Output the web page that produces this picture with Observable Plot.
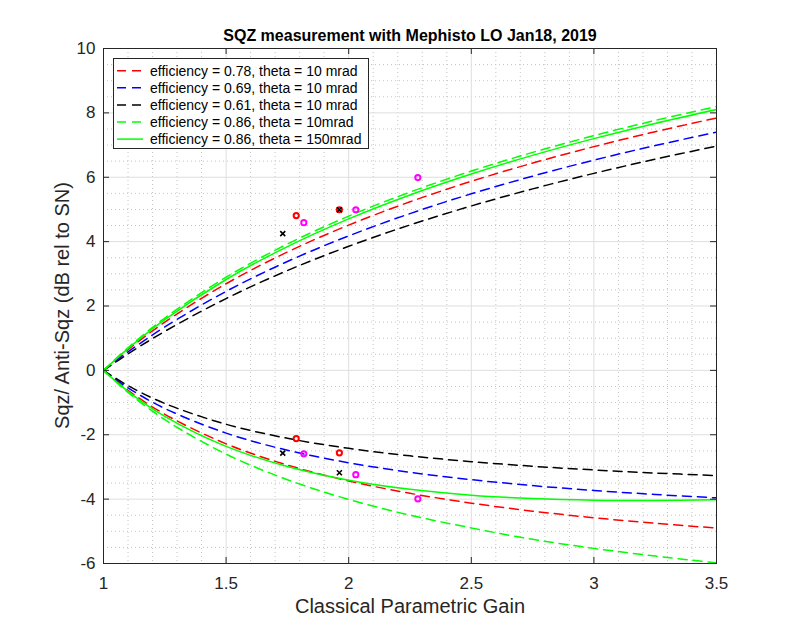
<!DOCTYPE html>
<html>
<head>
<meta charset="utf-8">
<script src="https://cdn.jsdelivr.net/npm/d3@7"></script>
<script src="https://cdn.jsdelivr.net/npm/@observablehq/plot@0.6"></script>
<style>
  html, body { margin: 0; padding: 0; background: #fff; }
  #chart { position: relative; width: 792px; height: 634px; }
</style>
</head>
<body>
<div id="chart"></div>
<script>
// ---- Data ----
const gain = [1, 1.1, 1.25, 1.5, 1.75, 2, 2.25, 2.5, 2.75, 3, 3.25, 3.5];

// efficiency = 0.78, theta = 10 mrad
const anti078 = [0, 0.644, 1.498, 2.692, 3.678, 4.514, 5.237, 5.874, 6.440, 6.951, 7.416, 7.841];
const sqz078  = [0, -0.618, -1.364, -2.282, -2.942, -3.436, -3.819, -4.125, -4.373, -4.578, -4.751, -4.898];
// efficiency = 0.69, theta = 10 mrad
const anti069 = [0, 0.574, 1.349, 2.454, 3.382, 4.178, 4.871, 5.485, 6.035, 6.532, 6.985, 7.401];
const sqz069  = [0, -0.542, -1.183, -1.949, -2.481, -2.870, -3.165, -3.395, -3.580, -3.730, -3.855, -3.960];
// efficiency = 0.61, theta = 10 mrad
const anti061 = [0, 0.511, 1.212, 2.231, 3.101, 3.855, 4.518, 5.108, 5.639, 6.121, 6.562, 6.968];
const sqz061  = [0, -0.475, -1.028, -1.673, -2.110, -2.423, -2.656, -2.836, -2.979, -3.094, -3.189, -3.268];
// efficiency = 0.86, theta = 10mrad
const anti086a = [0, 0.704, 1.626, 2.894, 3.926, 4.793, 5.539, 6.192, 6.772, 7.293, 7.766, 8.198];
const sqz086a  = [0, -0.686, -1.531, -2.602, -3.396, -4.010, -4.498, -4.895, -5.250, -5.530, -5.770, -5.980];
// efficiency = 0.86, theta = 150mrad
const anti086b = [0, 0.678, 1.575, 2.823, 3.846, 4.708, 5.451, 6.101, 6.680, 7.200, 7.672, 8.104];
const sqz086b  = [0, -0.650, -1.429, -2.362, -2.989, -3.413, -3.695, -3.876, -3.982, -4.033, -4.042, -4.021];

// measured points
const redGain = [1.786, 1.962, 1.786, 1.962];
const redDb   = [4.81, 4.99, -2.12, -2.56];
const magGain = [1.817, 2.029, 2.282, 1.817, 2.029, 2.282];
const magDb   = [4.59, 4.99, 5.99, -2.59, -3.24, -3.99];
const blkGain = [1.731, 1.962, 1.731, 1.962];
const blkDb   = [4.25, 4.99, -2.57, -3.18];

// ticks / grid
const xTicks = [1, 1.5, 2, 2.5, 3, 3.5];
const yTicks = [-6, -4, -2, 0, 2, 4, 6, 8, 10];
const xMinor = [1.1, 1.2, 1.3, 1.4, 1.6, 1.7, 1.8, 1.9, 2.1, 2.2, 2.3, 2.4, 2.6, 2.7, 2.8, 2.9, 3.1, 3.2, 3.3, 3.4];
const yMinor = [-5.5, -5, -4.5, -3.5, -3, -2.5, -1.5, -1, -0.5, 0.5, 1, 1.5, 2.5, 3, 3.5, 4.5, 5, 5.5, 6.5, 7, 7.5, 8.5, 9, 9.5];

const titleText = "SQZ measurement with Mephisto LO Jan18, 2019";
const xLabel = "Classical Parametric Gain";
const yLabel = "Sqz/ Anti-Sqz (dB rel to SN)";

const legendLabels = [
  "efficiency = 0.78, theta = 10 mrad",
  "efficiency = 0.69, theta = 10 mrad",
  "efficiency = 0.61, theta = 10 mrad",
  "efficiency = 0.86, theta = 10mrad",
  "efficiency = 0.86, theta = 150mrad"
];
const legendColors = ["#ff0000", "#0000ff", "#000000", "#00ff00", "#00ff00"];
const legendDash = ["9,6", "9,6", "9,6", "9,6", null];

// ---- Build ----
const W = 792, H = 634;
const mL = 103, mR = 76, mT = 48, mB = 71;
const fw = W - mL - mR, fh = H - mT - mB;
const FONT = "'Liberation Sans', Arial, Helvetica, sans-serif";

const pts = (xs, ys) => xs.map((x, i) => ({x, y: ys[i]}));

const series = [
  {a: anti078, s: sqz078, c: legendColors[0], d: legendDash[0]},
  {a: anti069, s: sqz069, c: legendColors[1], d: legendDash[1]},
  {a: anti061, s: sqz061, c: legendColors[2], d: legendDash[2]},
  {a: anti086a, s: sqz086a, c: legendColors[3], d: legendDash[3]},
  {a: anti086b, s: sqz086b, c: legendColors[4], d: legendDash[4]}
];

const lineMarks = [];
for (const sr of series) {
  for (const arr of [sr.a, sr.s]) {
    lineMarks.push(Plot.line(pts(gain, arr), {
      x: "x", y: "y", stroke: sr.c, strokeWidth: 1.5,
      strokeDasharray: sr.d ?? undefined, curve: "catmull-rom", clip: true
    }));
  }
}

const txtColor = "#262626";

const plot = Plot.plot({
  width: W, height: H,
  marginLeft: mL, marginRight: mR, marginTop: mT, marginBottom: mB,
  style: {fontFamily: FONT, color: txtColor, background: "#fff"},
  x: {domain: [1, 3.5], axis: null},
  y: {domain: [-6, 10], axis: null},
  marks: [
    // minor grid
    Plot.ruleX(xMinor, {stroke: "#c4c4c4", strokeWidth: 1, strokeDasharray: "1,3"}),
    Plot.ruleY(yMinor, {stroke: "#c4c4c4", strokeWidth: 1, strokeDasharray: "1,3"}),
    // major grid
    Plot.ruleX(xTicks, {stroke: "#dedede", strokeWidth: 1}),
    Plot.ruleY(yTicks, {stroke: "#dedede", strokeWidth: 1}),
    // curves
    ...lineMarks,
    // measured points
    Plot.dot(pts(redGain, redDb), {x: "x", y: "y", r: 2.6, stroke: "#ff0000", strokeWidth: 2, fill: "none"}),
    Plot.dot(pts(magGain, magDb), {x: "x", y: "y", r: 2.6, stroke: "#ff00ff", strokeWidth: 2, fill: "none"}),
    Plot.dot(pts(blkGain, blkDb), {x: "x", y: "y", r: 2.4, symbol: "times", stroke: "#000000", strokeWidth: 1.6}),
    // inward ticks
    Plot.ruleX(xTicks, {stroke: txtColor, strokeWidth: 1, insetTop: fh - 6}),
    Plot.ruleX(xTicks, {stroke: txtColor, strokeWidth: 1, insetBottom: fh - 6}),
    Plot.ruleY(yTicks, {stroke: txtColor, strokeWidth: 1, insetRight: fw - 6}),
    Plot.ruleY(yTicks, {stroke: txtColor, strokeWidth: 1, insetLeft: fw - 6}),
    // frame
    Plot.frame({stroke: txtColor, strokeWidth: 1}),
    // tick labels
    Plot.axisX({ticks: xTicks, tickSize: 0, tickPadding: 13, fontSize: 17, label: null, tickFormat: d => String(d)}),
    Plot.axisY({ticks: yTicks, tickSize: 0, tickPadding: 8, fontSize: 17, label: null, tickFormat: d => d < 0 ? "-" + String(-d) : String(d)}),
    // title and x label
    Plot.text([titleText], {frameAnchor: "top", lineAnchor: "bottom", dy: -8, fontSize: 16, fontWeight: "bold", fill: "#000"}),
    Plot.text([xLabel], {frameAnchor: "bottom", lineAnchor: "bottom", dy: 49, fontSize: 20, fill: txtColor})
  ]
});

document.getElementById("chart").appendChild(plot);

const svg = d3.select(plot);

// ---- Y axis label (rotated) ----
svg.append("text")
  .attr("transform", `translate(${mL - 41},${mT + fh / 2}) rotate(-90)`)
  .attr("text-anchor", "middle")
  .attr("dy", "0.35em")
  .attr("font-family", FONT)
  .attr("font-size", 20)
  .attr("fill", txtColor)
  .text(yLabel);

// ---- Legend (inside the axes, upper left) ----
const lg = svg.append("g").attr("class", "legend")
  .attr("font-family", FONT).attr("text-anchor", "start");
lg.append("rect").attr("x", 113.5).attr("y", 58.5).attr("width", 255).attr("height", 90)
  .attr("fill", "#fff").attr("stroke", txtColor).attr("stroke-width", 1);
legendLabels.forEach((lab, i) => {
  const cy = 70.7 + i * 17.1;
  const ln = lg.append("line").attr("x1", 117).attr("x2", 143).attr("y1", cy).attr("y2", cy)
    .attr("stroke", legendColors[i]).attr("stroke-width", 1.5);
  if (legendDash[i]) ln.attr("stroke-dasharray", legendDash[i]);
  lg.append("text").attr("x", 150).attr("y", cy + 5).attr("font-size", 14)
    .attr("text-anchor", "start").attr("fill", "#000").text(lab);
});
</script>
</body>
</html>
